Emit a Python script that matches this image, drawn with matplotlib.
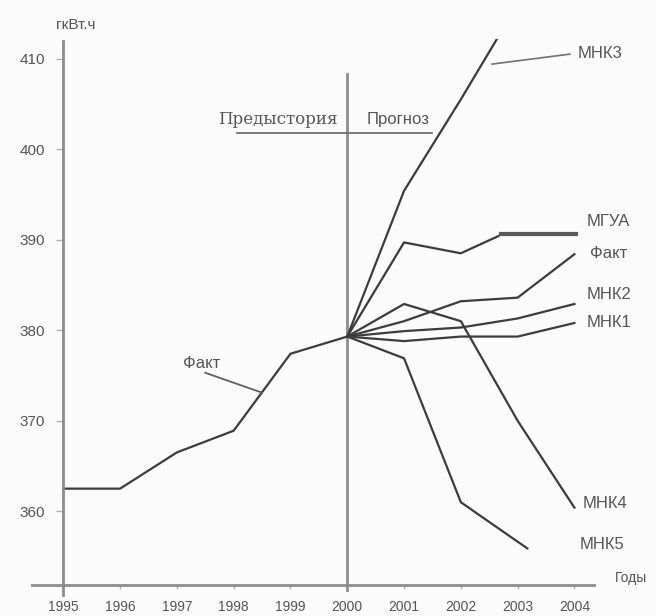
import numpy as np
import matplotlib.pyplot as plt

# ---- Data ----
hist_years = [1995, 1996, 1997, 1998, 1999, 2000]
hist_fact = [362.5, 362.5, 366.5, 368.9, 377.4, 379.3]

fc_years = [2000, 2001, 2002, 2003, 2004]
fact_fc = [379.3, 381.0, 383.2, 383.6, 388.4]
mnk1 = [379.3, 378.8, 379.3, 379.3, 380.8]
mnk2 = [379.3, 379.9, 380.3, 381.3, 382.9]
mnk4 = [379.3, 382.9, 381.0, 370.0, 360.4]

mnk3_years = [2000, 2001, 2002, 2003]
mnk3 = [379.3, 395.4, 405.5, 416.0]

mgua_years = [2000, 2001, 2002, 2002.66]
mgua = [379.3, 389.7, 388.5, 390.4]

mnk5_years = [2000, 2001, 2002, 2003.17]
mnk5 = [379.3, 376.9, 361.0, 355.9]

year_ticks = list(range(1995, 2005))
value_ticks = [360, 370, 380, 390, 400, 410]

# ---- Style ----
LINE = "#3c3c3c"
AXIS = "#8c8c8c"
TEXT = "#555555"
plt.rcParams["font.family"] = ["Liberation Sans", "DejaVu Sans"]

fig = plt.figure(figsize=(6.56, 6.16), dpi=100)
fig.patch.set_facecolor("#fbfbfb")
ax = fig.add_axes([0.0445, 0.0304, 0.8831, 0.9067])
ax.set_facecolor("#fbfbfb")
ax.set_xlim(1994.4, 2004.6)
ax.set_ylim(350.5, 412.2)

# axes as crossing lines
for s in ["top", "right"]:
    ax.spines[s].set_visible(False)
ax.spines["left"].set_position(("data", 1995))
ax.spines["bottom"].set_position(("data", 351.85))
ax.spines["left"].set_bounds(350.75, 411.9)
ax.spines["bottom"].set_bounds(1994.45, 2004.35)
for s in ["left", "bottom"]:
    ax.spines[s].set_color(AXIS)
    ax.spines[s].set_linewidth(2)

ax.set_xticks(year_ticks)
ax.set_yticks(value_ticks)
ax.tick_params(axis="x", length=3, width=1, color="#b0b0b0", pad=8,
               labelsize=10, labelcolor=TEXT)
ax.tick_params(axis="y", length=5, width=1, color="#b0b0b0", pad=8,
               labelsize=11, labelcolor=TEXT)

# divider between history and forecast
ax.plot([2000, 2000], [351.3, 408.3], color=AXIS, lw=2)
ax.plot([1998.06, 2001.49], [401.8, 401.8], color="#707070", lw=1.3)
ax.text(1998.78, 403.3, "Предыстория", family=["DejaVu Serif"],
        fontsize=12, color=TEXT, ha="center", va="center")
ax.text(2000.89, 403.3, "Прогноз", fontsize=12, color=TEXT,
        ha="center", va="center")

# ---- Series ----
lw = 1.6
ax.plot(hist_years, hist_fact, color=LINE, lw=lw)
ax.plot(fc_years, fact_fc, color=LINE, lw=lw)
ax.plot(fc_years, mnk1, color=LINE, lw=lw)
ax.plot(fc_years, mnk2, color=LINE, lw=lw)
ax.plot(fc_years, mnk4, color=LINE, lw=lw)
ax.plot(mnk3_years, mnk3, color=LINE, lw=lw)
ax.plot(mgua_years, mgua, color=LINE, lw=lw)
ax.plot(mnk5_years, mnk5, color=LINE, lw=lw)

# leaders
ax.plot([2002.55, 2003.92], [409.4, 410.5], color="#707070", lw=1.2)
ax.plot([2002.71, 2004.03], [390.6, 390.6], color="#5a5a5a", lw=3)
ax.plot([1997.5, 1998.5], [375.3, 373.1], color="#606060", lw=1.3)

# labels
lab = dict(fontsize=12, color=TEXT, va="center", ha="left", clip_on=False)
ax.text(2004.06, 410.55, "МНК3", **lab)
ax.text(2004.22, 392.05, "МГУА", **lab)
ax.text(2004.27, 388.5, "Факт", **lab)
ax.text(2004.22, 384.0, "МНК2", **lab)
ax.text(2004.22, 380.8, "МНК1", **lab)
ax.text(2004.15, 360.9, "МНК4", **lab)
ax.text(2004.10, 356.3, "МНК5", **lab)
ax.text(1997.44, 376.3, "Факт", fontsize=12, color=TEXT, ha="center", va="center")
ax.text(2004.71, 352.6, "Годы", fontsize=10, color=TEXT, ha="left", va="center",
        clip_on=False)
ax.text(1995.22, 413.7, "гкВт.ч", fontsize=11, color=TEXT, ha="center",
        va="center", clip_on=False)

fig.savefig("out.png", dpi=100, facecolor=fig.get_facecolor())
